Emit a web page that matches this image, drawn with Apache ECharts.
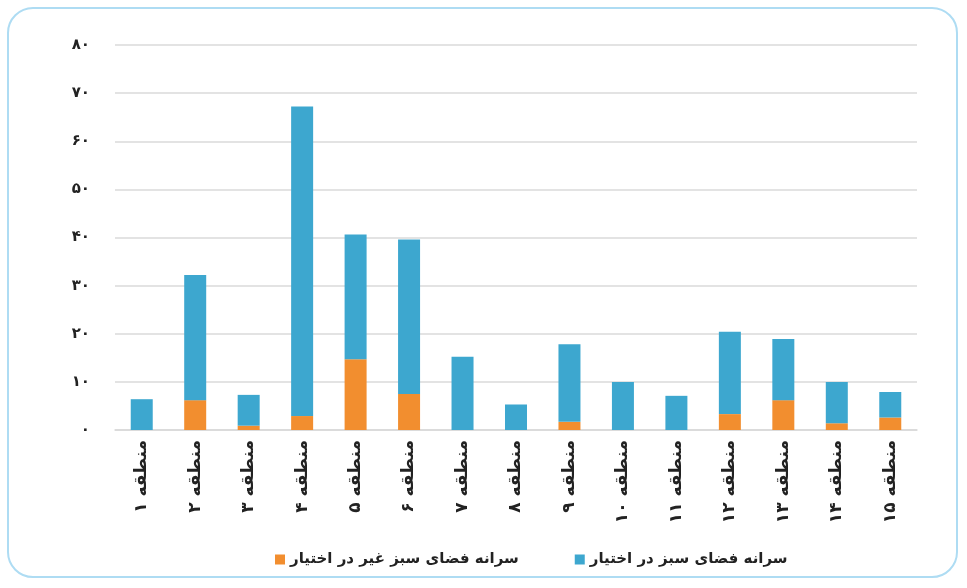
<!DOCTYPE html>
<html>
<head>
<meta charset="utf-8">
<script src="https://cdn.jsdelivr.net/npm/echarts@6/dist/echarts.min.js"></script>
<style>
  html, body { margin: 0; padding: 0; background: #fff; }
  #wrap { position: absolute; left: 7px; top: 7px; width: 951px; height: 571px;
          border: 2px solid #aedcf3; border-radius: 26px; box-sizing: border-box; }
  #main { position: absolute; left: 0; top: 0; width: 967px; height: 588px; }
</style>
</head>
<body>
<div id="wrap"></div>
<div id="main"></div>
<script>
var regions = ['منطقه ۱', 'منطقه ۲', 'منطقه ۳', 'منطقه ۴', 'منطقه ۵', 'منطقه ۶', 'منطقه ۷', 'منطقه ۸',
               'منطقه ۹', 'منطقه ۱۰', 'منطقه ۱۱', 'منطقه ۱۲', 'منطقه ۱۳', 'منطقه ۱۴', 'منطقه ۱۵'];
// سرانه فضای سبز غیر در اختیار
var notAvailable = [0, 6.2, 0.9, 2.9, 14.7, 7.5, 0, 0, 1.7, 0, 0, 3.3, 6.2, 1.4, 2.6];
// سرانه فضای سبز در اختیار
var available = [6.4, 26.0, 6.4, 64.3, 25.9, 32.1, 15.2, 5.3, 16.1, 10.0, 7.1, 17.1, 12.7, 8.6, 5.3];
var yTicks = ['۰', '۱۰', '۲۰', '۳۰', '۴۰', '۵۰', '۶۰', '۷۰', '۸۰'];

var seriesNames = ['سرانه فضای سبز غیر در اختیار', 'سرانه فضای سبز در اختیار'];

var myChart = echarts.init(document.getElementById('main'));
var font = 'DejaVu Sans';

var option = {
    animation: false,
    color: ['#f28e2f', '#3da7cf'],
    grid: {
        left: 115,
        right: 50,
        top: 45,
        bottom: 158
    },
    legend: {
        data: seriesNames,
        left: 270,
        top: 547,
        itemWidth: 10,
        itemHeight: 10,
        itemGap: 56,
        icon: 'rect',
        textStyle: {
            fontFamily: font,
            fontSize: 15,
            fontWeight: 'bold',
            color: '#222'
        }
    },
    xAxis: {
        type: 'category',
        data: regions,
        axisTick: { show: false },
        axisLine: {
            lineStyle: { color: '#d9d9d9', width: 1.5 }
        },
        axisLabel: {
            rotate: 90,
            margin: 10,
            fontFamily: font,
            fontSize: 17,
            fontWeight: 'bold',
            color: '#222'
        }
    },
    yAxis: {
        type: 'value',
        min: 0,
        max: 80,
        interval: 10,
        axisLine: { show: false },
        axisTick: { show: false },
        splitLine: {
            lineStyle: { color: '#dadada', width: 1.5 }
        },
        axisLabel: {
            margin: 25,
            fontFamily: font,
            fontSize: 15,
            fontWeight: 'bold',
            color: '#222',
            formatter: function (v) {
                return yTicks[Math.round(v / 10)];
            }
        }
    },
    series: [
        {
            name: seriesNames[0],
            type: 'bar',
            stack: 'total',
            barWidth: 22,
            data: notAvailable
        },
        {
            name: seriesNames[1],
            type: 'bar',
            stack: 'total',
            barWidth: 22,
            data: available
        }
    ]
};
myChart.setOption(option);
window.onresize = myChart.resize;
</script>
</body>
</html>
